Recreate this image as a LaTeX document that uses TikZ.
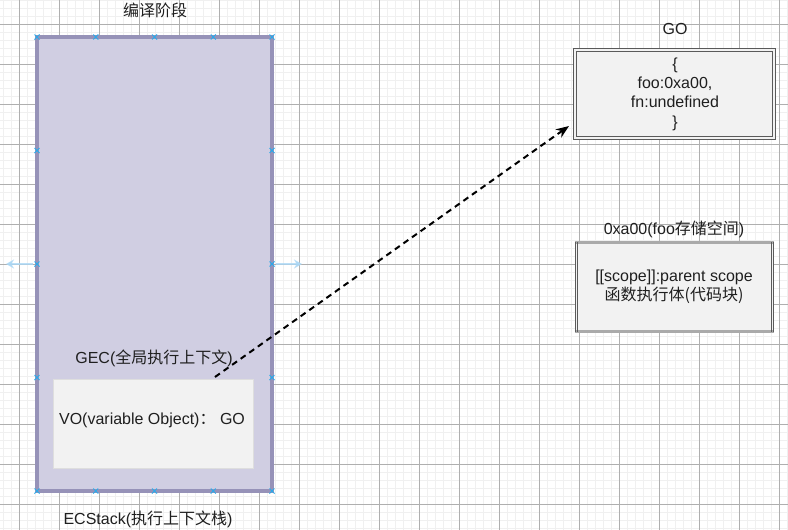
\documentclass[tikz,border=0pt]{standalone}
\usepackage{fontspec}
\setmainfont{Liberation Sans}
\newfontfamily\cjk{Noto Sans CJK SC}
\usetikzlibrary{arrows.meta}
\definecolor{gridminor}{RGB}{240,240,240}
\definecolor{gridmajor}{RGB}{175,175,175}
\definecolor{stackfill}{RGB}{208,206,226}
\definecolor{stackdraw}{RGB}{150,146,184}
\definecolor{boxfill}{RGB}{242,242,242}
\definecolor{voborder}{RGB}{222,222,222}
\definecolor{dbl}{RGB}{90,90,90}
\definecolor{memband}{RGB}{170,170,170}
\definecolor{xablue}{RGB}{41,170,235}
\definecolor{hoverblue}{RGB}{170,215,245}
\tikzset{
  txt/.style={inner sep=0pt, font=\fontsize{16}{19.3}\selectfont, text=black!88, align=center},
  xmark/.style={xablue, line width=1pt},
}
\newcommand{\xm}[2]{\draw[xmark] (#1-2.5,#2-2.5) -- (#1+2.5,#2+2.5) (#1-2.5,#2+2.5) -- (#1+2.5,#2-2.5);}
\begin{document}
\begin{tikzpicture}[x=1pt,y=-1pt]
\useasboundingbox (0,0) rectangle (788,530);
\fill[white] (0,0) rectangle (788,530);
% grid
\foreach \x in {3.5,11.5,...,788} \draw[gridminor, line width=0.8pt] (\x,0) -- (\x,530);
\foreach \y in {0.5,8.5,...,530} \draw[gridminor, line width=0.8pt] (0,\y) -- (788,\y);
\foreach \x in {19.5,59.5,...,788} \draw[gridmajor, line width=0.7pt] (\x,0) -- (\x,530);
\foreach \y in {24.5,64.5,...,530} \draw[gridmajor, line width=0.7pt] (0,\y) -- (788,\y);

% compile stage stack
\node[txt] (title) at (155,10) {{\cjk 编译阶段}};
\draw[fill=stackfill, draw=stackdraw, line width=3.2pt] (37,37) rectangle (272,491);
\node (stack) at (154.5,264) {};
\node[txt] (gec) at (154,358) {GEC({\cjk 全局执行上下文})};
\node[draw=voborder, fill=boxfill, line width=1.5pt, minimum width=200pt, minimum height=89pt, inner sep=0pt] (vo) at (153.5,424) {};
\node[txt] (votext) at (152,420) {VO(variable Object){\cjk ：} GO};
\node[txt] (ecs) at (148,519) {ECStack({\cjk 执行上下文栈})};

% connection marks
\foreach \x in {37,95.75,154.5,213.25,272} {\xm{\x}{37}\xm{\x}{491}}
\foreach \y in {150.5,264,377.5} {\xm{37}{\y}\xm{272}{\y}}
\draw[hoverblue, line width=2.5pt, -{Stealth[length=8pt,width=9pt]}, opacity=0.8] (33,264) -- (6,264);
\draw[hoverblue, line width=2.5pt, -{Stealth[length=8pt,width=9pt]}, opacity=0.8] (276,264) -- (302,264);

% GO
\node[txt] (gotitle) at (675,29) {GO};
\node[draw=dbl, double=boxfill, double distance=1.8pt, line width=1.1pt, fill=boxfill, minimum width=199pt, minimum height=88pt, inner sep=0pt] (go) at (674.5,94) {};
\node[txt] (gotext) at (675,94) {\{\\foo:0xa00,\\fn:undefined\\\}};

% 0xa00
\node[txt] (memtitle) at (674,229) {0xa00(foo{\cjk 存储空间})};
\node[fill=boxfill, minimum width=199pt, minimum height=89pt, inner sep=0pt] (mem) at (674.5,287) {};
\draw[memband, line width=3pt] (mem.north west) -- (mem.north east);
\draw[memband, line width=3pt] (mem.south west) -- (mem.south east);
\draw[dbl, line width=0.9pt] ([xshift=0.5pt]mem.north west) -- ([xshift=0.5pt]mem.south west);
\draw[dbl, line width=0.9pt] ([xshift=2.5pt]mem.north west) -- ([xshift=2.5pt]mem.south west);
\draw[dbl, line width=0.9pt] ([xshift=-0.5pt]mem.north east) -- ([xshift=-0.5pt]mem.south east);
\draw[dbl, line width=0.9pt] ([xshift=-2.5pt]mem.north east) -- ([xshift=-2.5pt]mem.south east);
\node[txt] (memtext) at (674,287) {[[scope]]:parent scope\\{\cjk 函数执行体(代码块)}};

% arrow
\coordinate (a0) at (215,377);
\coordinate (a1) at (569,126);
\draw[line width=2pt, dash pattern=on 6pt off 4.5pt, -{Stealth[length=13pt,width=10pt]}] (a0) -- (a1);
\end{tikzpicture}
\end{document}
